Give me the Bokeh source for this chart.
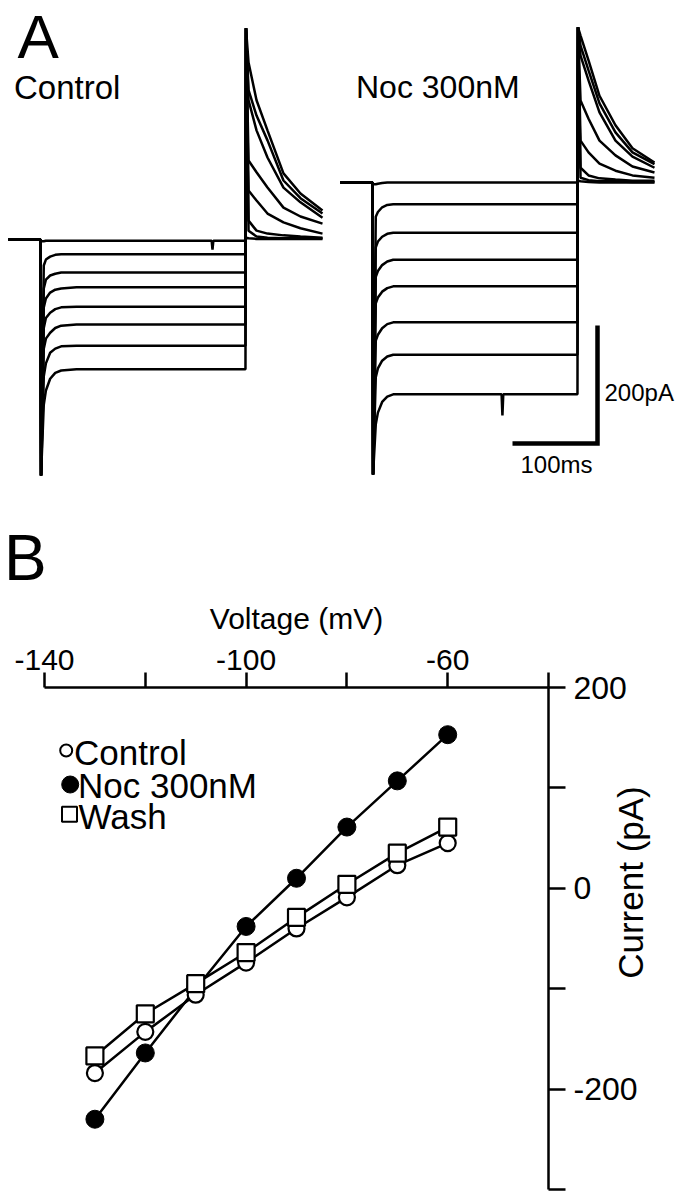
from bokeh.plotting import figure
from bokeh.models import Range1d, Label, FixedTicker, Title
from bokeh.core.properties import value
from bokeh.layouts import column, row
from bokeh.embed import file_html
from bokeh.resources import INLINE

FONT = "Liberation Sans"

# ---------------- Panel A data (sweeps: time in ms, current in pA rel. to holding) ----------------
t_ms = [0, 37.6, 38.3, 41.5, 44, 49, 55, 62, 80, 189.5, 190.5, 191.5, 239, 240, 241,
        278.8, 279.4, 282.4, 291.8, 304.7, 323.5, 343.5, 369.4]

control_sweeps = [
    [0, 0, -3, -3, -2, -2, -2, -2, -2, -2, -2, -2, -2, -17, -2, -2, 3, 2, 1, 1, 1, 1, 1],
    [0, 0, -400, -44, -34, -29, -26, -25, -25, -25, -25, -25, -25, -25, -25, -25, 358, 15, 5, 3, 2, 2, 2],
    [0, 0, -400, -83, -68, -61, -58, -56, -56, -56, -56, -56, -56, -56, -56, -56, 358, 32, 15, 10, 7, 5, 3],
    [0, 0, -400, -115, -100, -90, -85, -83, -81, -81, -81, -81, -81, -81, -81, -81, 358, 83, 66, 44, 29, 19, 10],
    [0, 0, -400, -150, -133, -124, -118, -115, -114, -114, -114, -114, -114, -114, -114, -114, 358, 134, 114, 88, 54, 39, 27],
    [0, 0, -400, -185, -168, -158, -150, -146, -144, -144, -144, -144, -144, -144, -144, -144, 358, 236, 185, 139, 88, 63, 37],
    [0, 0, -400, -232, -210, -192, -185, -181, -180, -180, -180, -180, -180, -180, -180, -180, 358, 253, 210, 168, 100, 70, 44],
    [0, 0, -400, -280, -256, -236, -226, -222, -220, -220, -220, -220, -220, -220, -220, -220, 358, 300, 236, 185, 112, 78, 49],
]

noc_sweeps = [
    [0, 0, -3, -3, -2, -1, 0, 0, 0, 0, 0, 0, 0, 0, 0, 0, 3, 2, 1, 0, 0, 0, 0],
    [0, 0, -495, -58, -50, -42, -38, -37, -37, -37, -37, -37, -37, -37, -37, -37, 263, 8, 4, 2, 2, 1, 1],
    [0, 0, -495, -110, -100, -92, -87, -85, -85, -85, -85, -85, -85, -85, -85, -85, 263, 25, 12, 7, 5, 3, 3],
    [0, 0, -495, -160, -150, -140, -134, -131, -131, -131, -131, -131, -131, -131, -131, -131, 263, 71, 51, 32, 20, 12, 8],
    [0, 0, -495, -205, -195, -185, -179, -176, -176, -176, -176, -176, -176, -176, -176, -176, 263, 139, 108, 71, 46, 27, 17],
    [0, 0, -495, -268, -258, -247, -240, -237, -237, -237, -237, -237, -237, -237, -237, -237, 263, 215, 173, 119, 71, 44, 25],
    [0, 0, -495, -330, -315, -302, -295, -292, -292, -292, -292, -292, -292, -292, -292, -292, 263, 232, 190, 134, 85, 51, 31],
    [0, 0, -495, -410, -390, -372, -363, -359, -359, -359, -395, -359, -359, -359, -359, -359, 263, 249, 207, 147, 97, 58, 34],
]

scale_ms = 100
scale_pa = 200

# ---------------- Panel B data (I-V) ----------------
voltage_mv = [-130, -120, -110, -100, -90, -80, -70, -60]
control_pa = [-184, -143, -106, -74, -40, -9, 23, 45]
noc_pa = [-230, -164, -100, -38, 10, 61, 107, 153]
wash_pa = [-167, -125, -95, -64, -29, 4, 35, 61]

series_names = ["Control", "Noc 300nM", "Wash"]
x_ticks = [-140, -120, -100, -80, -60, -40]
x_tick_labels = {-140: "-140", -120: "", -100: "-100", -80: "", -60: "-60", -40: ""}
y_ticks = [-300, -200, -100, 0, 100, 200]
y_tick_labels = {-300: "", -200: "-200", -100: "", 0: "0", 100: "", 200: "200"}

# ---------------- layout helpers (page pixels -> data units) ----------------
MS_PER_PX = 100 / 85.0
PA_PER_PX = 200 / 118.0
A_W, A_H = 683, 598


def ax(px):
    return (px - 8) * MS_PER_PX


def ay(py):
    return (239 - py) * PA_PER_PX


B_LEFT, B_TOP, B_FW, B_FH = 44, 686, 504, 502
B_TOPB, B_BOTB = B_TOP - A_H, 5


def bx(px):
    return -140 + (px - B_LEFT) * 100.0 / B_FW


def by(py):
    return 200 - (py - B_TOP) * 500.0 / B_FH


NOC_DT = ax(340)
NOC_DI = ay(182)

pA = figure(width=A_W, height=A_H, x_range=Range1d(ax(0), ax(A_W)),
            y_range=Range1d(ay(A_H), ay(0)), x_axis_type=None, y_axis_type=None,
            toolbar_location=None, output_backend="svg", min_border=0)
pA.outline_line_color = None

pA.multi_line([t_ms] * len(control_sweeps), control_sweeps, line_color="black", line_width=2.5)
pA.multi_line([[t + NOC_DT for t in t_ms]] * len(noc_sweeps),
              [[v + NOC_DI for v in s] for s in noc_sweeps], line_color="black", line_width=2.5)

cx, cy = ax(597), ay(443)
pA.line([cx - scale_ms, cx, cx], [cy, cy, cy + scale_pa], line_color="black", line_width=4.5,
        line_join="miter")


def lab(fig, xpx, base_py, text, fs, k=0.32):
    # k: baseline correction observed in the renderer (fraction of font size)
    fig.add_layout(Label(x=ax(xpx), y=ay(base_py - k * fs), text=text, text_font=FONT,
                         text_font_size=f"{fs}px", text_color="black", text_baseline="alphabetic"))


lab(pA, 17, 62, "A", 62, 0.42)
lab(pA, 13.5, 98, "Control", 33)
lab(pA, 355.5, 97, "Noc 300nM", 32)
lab(pA, 604, 400, "200pA", 24)
lab(pA, 520, 472, "100ms", 24)
lab(pA, 3.5, 584, "B", 64, 0.42)

# ---------------- Panel B ----------------
pB = figure(frame_width=B_FW, frame_height=B_FH, x_range=Range1d(-140, -40), y_range=Range1d(-300, 200),
            x_axis_location="above", y_axis_location="right", toolbar_location=None,
            output_backend="svg", min_border_left=B_LEFT, min_border_right=0, min_border_top=B_TOPB,
            min_border_bottom=B_BOTB)
pB.outline_line_color = None
pB.grid.visible = False

xa = pB.xaxis[0]
xa.ticker = FixedTicker(ticks=x_ticks)
xa.major_label_overrides = x_tick_labels
ya = pB.yaxis[0]
ya.ticker = FixedTicker(ticks=y_ticks)
ya.major_label_overrides = y_tick_labels
for a in (xa, ya):
    a.axis_line_width = 2.5
    a.axis_line_color = "black"
    a.major_tick_line_width = 2.5
    a.major_tick_line_color = "black"
    a.major_tick_in = 0
    a.minor_tick_in = 0
    a.minor_tick_out = 0
    a.major_label_text_font = FONT
    a.major_label_text_color = "black"
xa.major_tick_out = 15
xa.major_label_text_font_size = "30px"
xa.major_label_standoff = 3
xa.axis_label = "Voltage (mV)"
xa.axis_label_text_font = FONT
xa.axis_label_text_font_size = "30px"
xa.axis_label_text_font_style = "normal"
xa.axis_label_text_color = "black"
xa.axis_label_standoff = 12
ya.major_tick_out = 17
ya.major_label_text_font_size = "32px"
ya.major_label_standoff = 8

for ys in (noc_pa, control_pa, wash_pa):
    pB.line(voltage_mv, ys, line_color="black", line_width=2.5)
pB.scatter(voltage_mv, noc_pa, marker="circle", size=18, fill_color="black", line_color="black")
pB.scatter(voltage_mv, control_pa, marker="circle", size=16, fill_color="white",
           line_color="black", line_width=2.2)
pB.scatter(voltage_mv, wash_pa, marker="square", size=17, fill_color="white",
           line_color="black", line_width=2.2)

# legend (key symbols + names)
pB.scatter([bx(65.7)], [by(749)], marker="circle", size=12, fill_color="white", line_color="black",
           line_width=2)
pB.scatter([bx(69.7)], [by(783)], marker="circle", size=17, fill_color="black", line_color="black")
pB.scatter([bx(69)], [by(812.7)], marker="square", size=15, fill_color="white", line_color="black",
           line_width=2)
LEG_FS = 35
LEG_K = 0.32
pB.text([bx(73.5), bx(77.5), bx(78)],
        [by(762 - LEG_K * LEG_FS), by(795 - LEG_K * LEG_FS), by(826 - LEG_K * LEG_FS)],
        text=series_names, text_font=value(FONT), text_font_size=value(f"{LEG_FS}px"),
        text_baseline="alphabetic", text_color="black")

# y-axis title, reading upwards, in a transparent strip overlapping the axis' label column
C_H = B_TOPB + B_FH + B_BOTB
c_top = 600 - A_H
c_bot = C_H - (2 * 882 - 600 - A_H)
pC = figure(width=44, height=C_H, x_axis_type=None, y_axis_type=None, toolbar_location=None,
            output_backend="svg", min_border_left=0, min_border_right=0, min_border_top=c_top,
            min_border_bottom=c_bot)
pC.outline_line_color = None
pC.background_fill_alpha = 0
pC.border_fill_alpha = 0
pC.margin = (0, 0, 0, -30)
pC.add_layout(Title(text="Current (pA)", align="center", vertical_align="top", text_font=FONT,
                    text_font_size="35px", text_font_style="normal", text_color="black",
                    standoff=0), "left")

for f in (pA, pB, pC):
    f.frame_align = False
layout = column(pA, row(pB, pC, spacing=0), spacing=0)
open("out.html", "w").write(file_html(layout, INLINE))
